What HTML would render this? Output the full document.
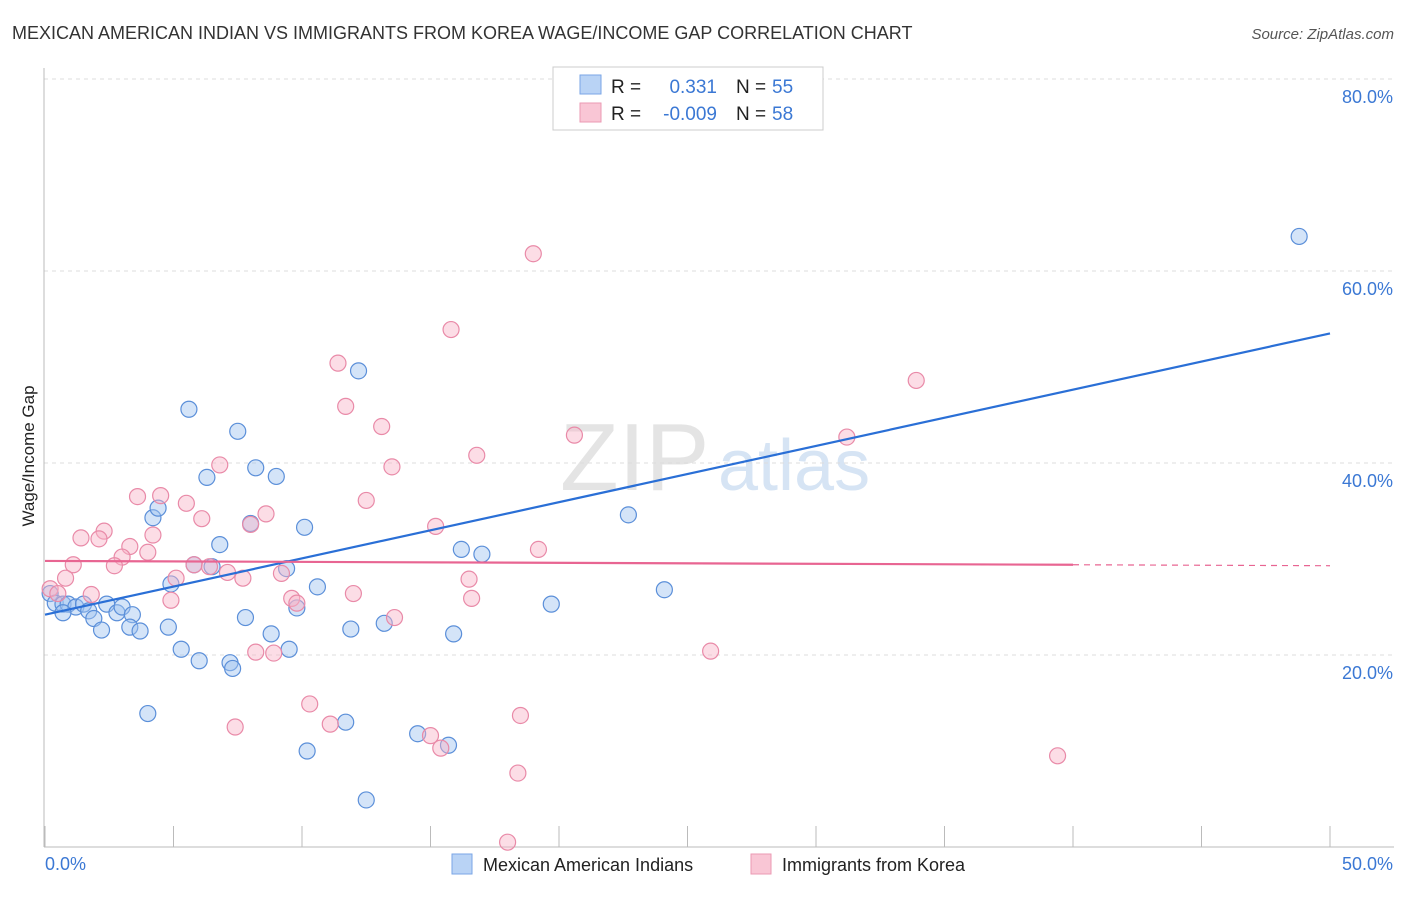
<!DOCTYPE html>
<html><head><meta charset="utf-8"><style>
body{margin:0;background:#fff;font-family:"Liberation Sans",sans-serif;}
svg text{font-family:"Liberation Sans",sans-serif;}
</style></head><body>
<svg id="c" width="1406" height="892" xmlns="http://www.w3.org/2000/svg">
<text x="12" y="39" font-size="18" fill="#333">MEXICAN AMERICAN INDIAN VS IMMIGRANTS FROM KOREA WAGE/INCOME GAP CORRELATION CHART</text>
<text x="1394" y="39" font-size="15" fill="#555" font-style="italic" text-anchor="end">Source: ZipAtlas.com</text>
<text x="560" y="490" font-size="96" fill="#e4e4e4" font-family="Liberation Serif">ZIP</text>
<text x="718" y="490" font-size="72" fill="#d6e4f4">atlas</text>
<g id="grid"></g>
<line x1="44" y1="68" x2="44" y2="847" stroke="#bbb"/>
<line x1="44" y1="847" x2="1394" y2="847" stroke="#bbb"/>
<text transform="translate(34,456) rotate(-90)" font-size="17" fill="#222" text-anchor="middle">Wage/Income Gap</text>
<text x="45" y="870" font-size="18" fill="#3b78d4">0.0%</text>
<text x="1393" y="870" font-size="18" fill="#3b78d4" text-anchor="end">50.0%</text>
<g id="pts"></g>
<g id="lines"></g>
<g>
<rect x="553" y="67" width="270" height="63" fill="#fff" stroke="#ccc"/>
<rect x="580" y="75" width="21" height="19" fill="#b9d3f5" stroke="#7aa6e6"/>
<rect x="580" y="103" width="21" height="19" fill="#f9c6d5" stroke="#eb9ab3"/>
<text x="611" y="93" font-size="19" fill="#222">R =</text><text x="717" y="93" font-size="19" fill="#3b78d4" text-anchor="end">0.331</text>
<text x="736" y="93" font-size="19" fill="#222">N =</text><text x="772" y="93" font-size="19" fill="#3b78d4">55</text>
<text x="611" y="120" font-size="19" fill="#222">R =</text><text x="717" y="120" font-size="19" fill="#3b78d4" text-anchor="end">-0.009</text>
<text x="736" y="120" font-size="19" fill="#222">N =</text><text x="772" y="120" font-size="19" fill="#3b78d4">58</text>
</g>
<g>
<rect x="452" y="854" width="20" height="20" fill="#b9d3f5" stroke="#7aa6e6"/>
<text x="483" y="871" font-size="18" fill="#222">Mexican American Indians</text>
<rect x="751" y="854" width="20" height="20" fill="#f9c6d5" stroke="#eb9ab3"/>
<text x="782" y="871" font-size="18" fill="#222">Immigrants from Korea</text>
</g>
</svg>
<script>
const blueX=[22.7,24.1,48.8,8.8,10.1,12.2,5.6,7.5,8.2,9.0,6.3,4.2,4.4,8.0,6.8,16.2,17.0,5.8,6.5,9.4,4.9,10.6,19.7,0.2,0.4,0.7,0.9,1.2,1.5,0.7,1.7,1.9,2.2,2.4,2.8,3.0,3.4,3.3,3.7,4.8,5.3,6.0,7.2,7.3,7.8,9.8,9.5,11.9,13.2,15.9,4.0,11.7,10.2,14.5,15.7,12.5];
const blueY=[34.6,26.8,63.6,22.2,33.3,49.6,45.6,43.3,39.5,38.6,38.5,34.3,35.3,33.7,31.5,31.0,30.5,29.4,29.2,29.0,27.4,27.1,25.3,26.4,25.4,25.3,25.3,25.0,25.3,24.4,24.6,23.8,22.6,25.3,24.4,25.0,24.2,22.9,22.5,22.9,20.6,19.4,19.2,18.6,23.9,24.9,20.6,22.7,23.3,22.2,13.9,13.0,10.0,11.8,10.6,4.9];
const pinkX=[19.0,15.8,11.4,33.9,11.7,13.1,20.6,31.2,16.8,6.8,13.5,3.6,4.5,5.5,12.5,8.6,8.0,6.1,2.3,1.4,2.1,15.2,3.3,4.0,4.2,3.0,19.2,1.1,2.7,5.8,6.4,7.1,5.1,7.7,9.2,0.8,16.5,0.2,0.5,1.8,4.9,12.0,9.6,9.8,16.6,13.6,8.2,8.9,25.9,10.3,11.1,7.4,15.0,15.4,18.5,18.4,39.4,18.0];
const pinkY=[61.8,53.9,50.4,48.6,45.9,43.8,42.9,42.7,40.8,39.8,39.6,36.5,36.6,35.8,36.1,34.7,33.6,34.2,32.9,32.2,32.1,33.4,31.3,30.7,32.5,30.2,31.0,29.4,29.3,29.4,29.2,28.6,28.0,28.0,28.5,28.0,27.9,26.9,26.4,26.3,25.7,26.4,25.9,25.4,25.9,23.9,20.3,20.2,20.4,14.9,12.8,12.5,11.6,10.3,13.7,7.7,9.5,0.5];
const blueFit=[24.2,53.5];
const pinkFit=[29.8,29.4,29.3];
const yTicks=[20,40,60,80];
const xTicks=[0,5,10,15,20,25,30,35,40,45,50];
const sx=v=>45+v/50*1285, sy=v=>847-v/20*192;
const NS="http://www.w3.org/2000/svg";
function mk(t,a,p){const e=document.createElementNS(NS,t);for(const k in a)e.setAttribute(k,a[k]);p.appendChild(e);return e;}
const grid=document.getElementById('grid');
yTicks.forEach(v=>{
const l=mk('line',{x1:44,x2:1394,y1:sy(v),y2:sy(v),stroke:'#ddd','stroke-dasharray':'4,4'},grid);


const t=mk('text',{x:1393,y:sy(v)+24,'font-size':18,fill:'#3b78d4','text-anchor':'end'},grid);t.textContent=v.toFixed(1)+'%';


});
xTicks.forEach(v=>{
const l=mk('line',{x1:sx(v),x2:sx(v),y1:826,y2:847,stroke:'#bbb'},grid);


});
const pts=document.getElementById('pts');
blueX.forEach((x,i)=>{const c=mk('circle',{cx:sx(x),cy:sy(blueY[i]),r:8,fill:'rgba(160,196,240,0.45)',stroke:'#5b8fd9','stroke-width':1.2},pts);

});
pinkX.forEach((x,i)=>{const c=mk('circle',{cx:sx(x),cy:sy(pinkY[i]),r:8,fill:'rgba(248,180,200,0.45)',stroke:'#e98aa8','stroke-width':1.2},pts);

});
const lg=document.getElementById('lines');
const bl=mk('line',{x1:sx(0),y1:sy(blueFit[0]),x2:sx(50),y2:sy(blueFit[1]),stroke:'#2a6fd6','stroke-width':2.2},lg);


const pl=mk('line',{x1:sx(0),y1:sy(pinkFit[0]),x2:sx(40),y2:sy(pinkFit[1]),stroke:'#e86592','stroke-width':2.2},lg);


const pd=mk('line',{x1:sx(40),y1:sy(pinkFit[1]),x2:sx(50),y2:sy(pinkFit[2]),stroke:'#e86592','stroke-width':1.2,'stroke-dasharray':'6,5'},lg);


</script>
</body></html>
